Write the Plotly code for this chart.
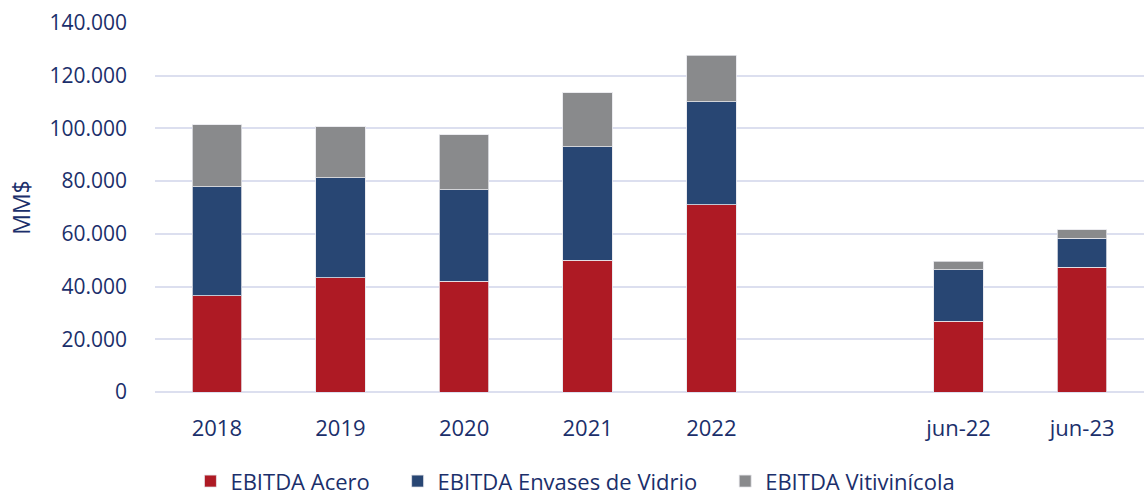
import plotly.graph_objects as go

categories = ["2018", "2019", "2020", "2021", "2022", " ", "jun-22", "jun-23"]
acero = [36500, 43400, 42000, 50000, 71000, None, 26800, 47300]
vidrio = [41400, 37800, 34800, 43000, 39200, None, 19600, 11100]
viti = [23500, 19400, 20800, 20500, 17600, None, 3300, 3200]

series_names = ["EBITDA Acero", "EBITDA Envases de Vidrio", "EBITDA Vitivinícola"]
colors = ["#AE1A24", "#284673", "#898A8C"]
txt = "#1B2F6B"
font_family = "Open Sans, Noto Sans, sans-serif"
pad = "\u00a0" * 4

fig = go.Figure()
for i, (name, vals, col) in enumerate(zip(series_names, [acero, vidrio, viti], colors)):
    fig.add_trace(go.Bar(
        x=categories, y=vals, name=name + (pad if i < 2 else ""),
        marker=dict(color=col, line=dict(color="rgba(230,230,235,0.8)", width=1)),
    ))

fig.update_layout(
    barmode="stack",
    bargap=0.6,
    width=1144, height=496,
    margin=dict(l=155, r=0, t=23, b=104),
    plot_bgcolor="white", paper_bgcolor="white",
    separators=",.",
    font=dict(family=font_family, size=20, color=txt),
    xaxis=dict(
        type="category", categoryorder="array", categoryarray=categories,
        showgrid=False, showline=False, ticks="", automargin=False,
        tickangle=0, ticklabelstandoff=21,
        tickfont=dict(size=22, color=txt),
    ),
    yaxis=dict(
        range=[0, 140000], dtick=20000, tickformat=",d",
        showgrid=True, gridcolor="#DCDFEF", gridwidth=1.5,
        zeroline=True, zerolinecolor="#DCDFEF", zerolinewidth=1.5,
        ticks="", ticklabelstandoff=27, automargin=False,
        tickfont=dict(size=21, color=txt),
        title=dict(text="MM$", font=dict(size=23, color=txt), standoff=12),
    ),
    legend=dict(
        orientation="h", xref="container", x=0.503, xanchor="center",
        yref="container", y=0.072, yanchor="top",
        font=dict(size=22, color=txt), traceorder="normal",
    ),
    showlegend=True,
)

fig.write_html(
    "out.html",
    config={"displayModeBar": False},
    post_script="document.body.style.margin='0';document.body.style.overflow='hidden';",
)
